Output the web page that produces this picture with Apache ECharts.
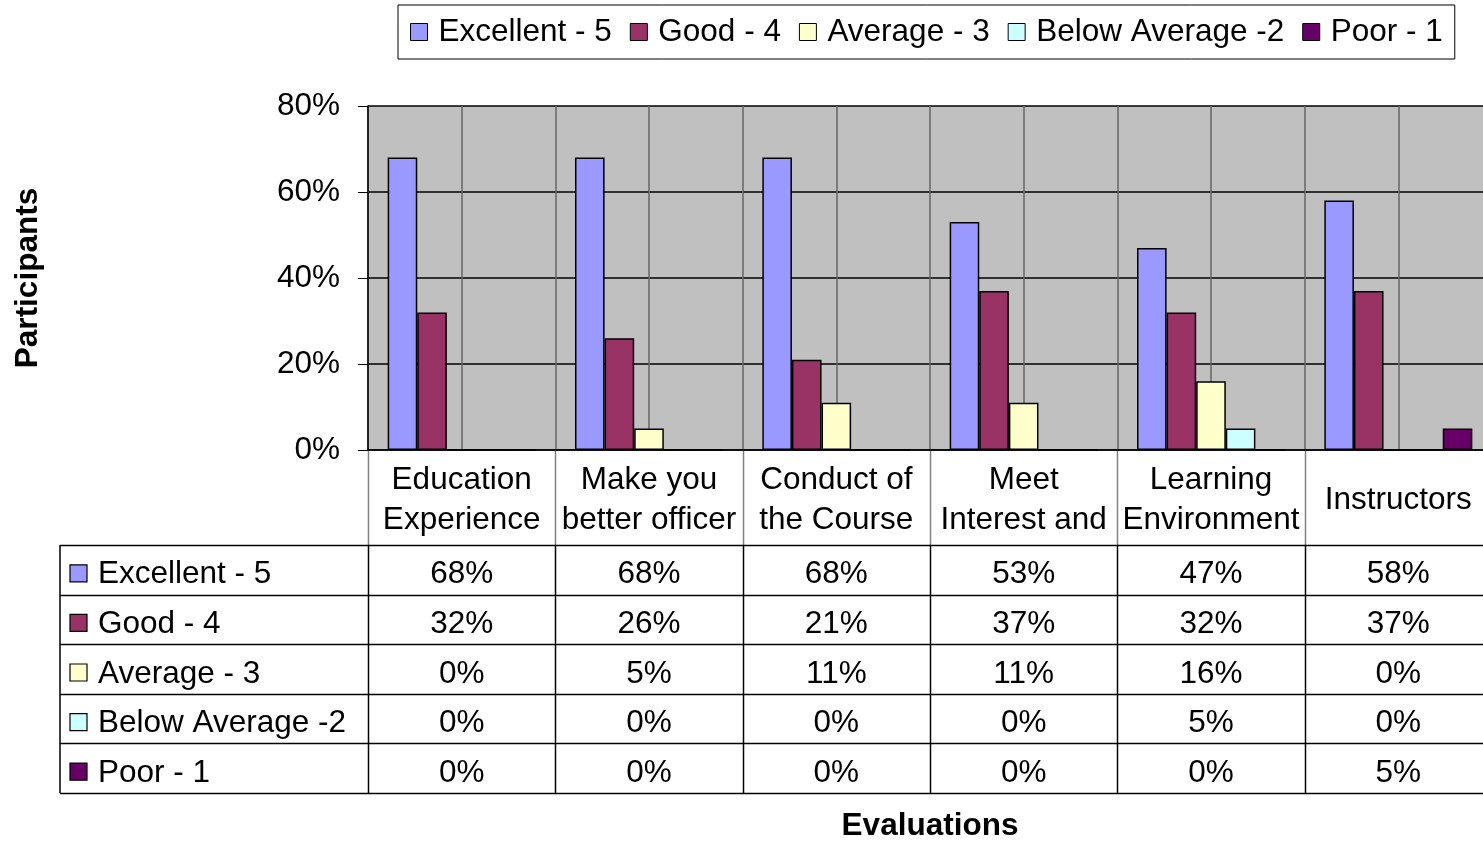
<!DOCTYPE html>
<html>
<head>
<meta charset="utf-8">
<script src="https://cdn.jsdelivr.net/npm/echarts@6/dist/echarts.min.js"></script>
<style>
  html, body { margin: 0; padding: 0; background: #fff; }
  #main { width: 1483px; height: 843px; }
</style>
</head>
<body>
<div id="main"></div>
<script>
// chart data
var categories = ['Education\nExperience', 'Make you\nbetter officer', 'Conduct of\nthe Course', 'Meet\nInterest and', 'Learning\nEnvironment', 'Instructors'];
var seriesNames = ['Excellent - 5', 'Good - 4', 'Average - 3', 'Below Average -2', 'Poor - 1'];
var excellent = [68, 68, 68, 53, 47, 58];
var good = [32, 26, 21, 37, 32, 37];
var average = [0, 5, 11, 11, 16, 0];
var belowAverage = [0, 0, 0, 0, 5, 0];
var poor = [0, 0, 0, 0, 0, 5];
var seriesData = [excellent, good, average, belowAverage, poor];
var colors = ['#9999FF', '#993366', '#FFFFCC', '#CCFFFF', '#660066'];

var FONT = 'Liberation Sans, Arial, sans-serif';
var FS = 31.5;
var chart = echarts.init(document.getElementById('main'));

// helper axis: half-category slots, only used for the vertical grid lines
var halfSlots = [];
for (var i = 0; i < categories.length * 2; i++) halfSlots.push('');

var series = seriesNames.map(function (name, k) {
  return {
    name: name,
    type: 'bar',
    xAxisIndex: 0,
    data: seriesData[k],
    barGap: '0%',
    barCategoryGap: '21%',
    itemStyle: { color: colors[k], borderColor: '#000', borderWidth: 1.5 }
  };
});

chart.setOption({
  animation: false,
  textStyle: { fontFamily: FONT },
  legend: {
    data: seriesNames,
    left: 398,
    top: 5,
    padding: [11, 12, 11, 12],
    borderColor: '#000',
    borderWidth: 1,
    itemGap: 18,
    itemWidth: 17,
    itemHeight: 17,
    icon: 'rect',
    itemStyle: { borderColor: '#000', borderWidth: 1 },
    textStyle: { fontSize: FS, color: '#000', fontFamily: FONT, padding: [0, 0, 0, 6] }
  },
  grid: {
    left: 368,
    top: 106,
    bottom: 393,
    right: -9,
    outerBoundsMode: 'none',
    containLabel: false,
    show: true,
    backgroundColor: '#C0C0C0',
    borderWidth: 0
  },
  xAxis: [{
    type: 'category',
    data: categories,
    name: 'Evaluations',
    nameLocation: 'middle',
    nameGap: 360,
    nameTextStyle: { fontSize: FS, fontWeight: 'bold', color: '#000', fontFamily: FONT },
    axisLine: { lineStyle: { color: '#000', width: 1.5 } },
    axisTick: { show: false },
    axisLabel: {
      interval: 0,
      fontSize: FS,
      lineHeight: 40,
      color: '#000',
      verticalAlign: 'middle',
      margin: 50,
      fontFamily: FONT
    },
    splitLine: { show: false }
  }, {
    type: 'category',
    data: halfSlots,
    position: 'bottom',
    axisLine: { show: false },
    axisTick: { show: false },
    axisLabel: { show: false },
    splitLine: { show: true, interval: 0, lineStyle: { color: '#666', width: 1.5 } }
  }],
  yAxis: {
    type: 'value',
    min: 0,
    max: 80,
    interval: 20,
    name: 'Participants',
    nameLocation: 'middle',
    nameRotate: 90,
    nameGap: 324,
    nameTextStyle: { fontSize: FS, fontWeight: 'bold', color: '#000', fontFamily: FONT },
    axisLine: { show: true, lineStyle: { color: '#000', width: 1.5 } },
    axisTick: { show: true, length: 10, lineStyle: { color: '#000' } },
    axisLabel: { formatter: '{value}%', fontSize: FS, color: '#000', margin: 28, fontFamily: FONT },
    splitLine: { lineStyle: { color: '#000', width: 1.5 } }
  },
  series: series
});

// data table under the plot
function drawTable() {
  var c0 = chart.convertToPixel({ xAxisIndex: 0 }, 0);
  var c1 = chart.convertToPixel({ xAxisIndex: 0 }, 1);
  var step = c1 - c0;
  var plotLeft = c0 - step / 2;
  var plotBottom = chart.convertToPixel({ yAxisIndex: 0 }, 0);
  var tableTop = plotBottom + 95;
  var rowH = 49.6;
  var tableLeft = 60;
  var tableBottom = tableTop + rowH * seriesNames.length;
  var right = 1483;
  var els = [];

  // vertical separators in the category label band (gray) and table (black)
  for (var i = 0; i < categories.length; i++) {
    var x = Math.round(plotLeft + i * step) + 0.5;
    els.push({ type: 'line', shape: { x1: x, y1: plotBottom, x2: x, y2: tableTop }, style: { stroke: '#808080', lineWidth: 1.5 } });
    els.push({ type: 'line', shape: { x1: x, y1: tableTop, x2: x, y2: tableBottom }, style: { stroke: '#000', lineWidth: 1.5 } });
  }
  els.push({ type: 'line', shape: { x1: tableLeft, y1: tableTop, x2: tableLeft, y2: tableBottom }, style: { stroke: '#000', lineWidth: 1.5 } });

  // horizontal rules
  for (var r = 0; r <= seriesNames.length; r++) {
    var y = Math.round(tableTop + r * rowH) + 0.5;
    els.push({ type: 'line', shape: { x1: tableLeft, y1: y, x2: right, y2: y }, style: { stroke: '#000', lineWidth: 1.5 } });
  }

  // rows
  seriesNames.forEach(function (name, k) {
    var cy = tableTop + k * rowH + rowH / 2 + 5;
    els.push({ type: 'rect', shape: { x: 70, y: cy - 10, width: 17, height: 17 }, style: { fill: colors[k], stroke: '#000', lineWidth: 1.2 } });
    els.push({ type: 'text', x: 98, y: cy, style: { text: name, font: FS + 'px ' + FONT, fill: '#000', verticalAlign: 'middle', align: 'left' } });
    seriesData[k].forEach(function (v, c) {
      var cx = chart.convertToPixel({ xAxisIndex: 0 }, c);
      els.push({ type: 'text', x: cx, y: cy, style: { text: v + '%', font: FS + 'px ' + FONT, fill: '#000', verticalAlign: 'middle', align: 'center' } });
    });
  });

  chart.setOption({ graphic: { elements: els } });
}
drawTable();
</script>
</body>
</html>
